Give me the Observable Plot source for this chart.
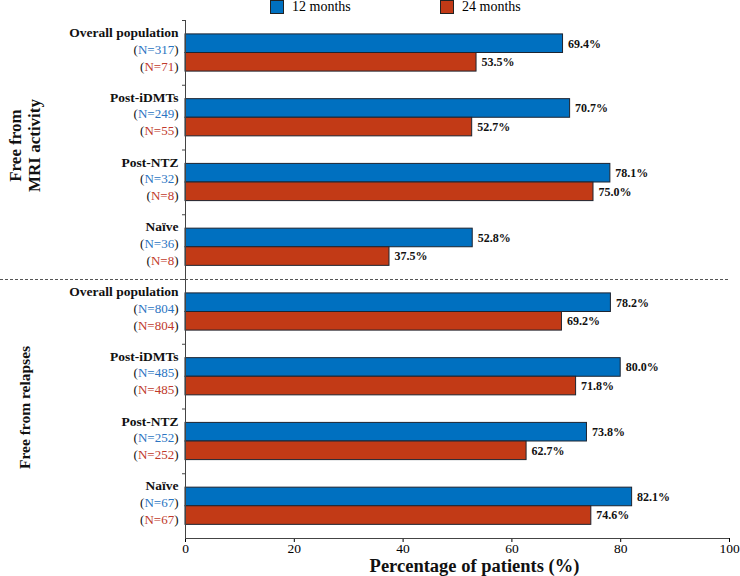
<!DOCTYPE html>
<html><head><meta charset="utf-8">
<script src="https://cdn.jsdelivr.net/npm/d3@7"></script>
<script src="https://cdn.jsdelivr.net/npm/@observablehq/plot@0.6"></script>
<style>
body{margin:0;background:#fff;font-family:"Liberation Serif","Times New Roman",serif;}
#legend{position:relative;height:16px;width:740px;overflow:visible;}
.sw{position:absolute;top:0;width:12px;height:12px;border:1px solid #222;}
.lt{position:absolute;top:0;font-size:14px;line-height:14px;color:#000;white-space:nowrap;}
</style></head><body>
<div id="legend"></div>
<div id="chart"></div>
<script>
// ---- data ----
const seriesNames = ["12 months", "24 months"];
const seriesColors = ["#0070C0", "#C23A16"];
const nColors = ["#2A74C2", "#C0392B"];
const sections = ["Free from\nMRI activity", "Free from relapses"];
const groups = ["Overall population", "Post-iDMTs", "Post-NTZ", "Naïve"];
const mri12 = [69.4, 70.7, 78.1, 52.8];
const mri24 = [53.5, 52.7, 75.0, 37.5];
const mriN12 = [317, 249, 32, 36];
const mriN24 = [71, 55, 8, 8];
const rel12 = [78.2, 80.0, 73.8, 82.1];
const rel24 = [69.2, 71.8, 62.7, 74.6];
const relN12 = [804, 485, 252, 67];
const relN24 = [804, 485, 252, 67];
const xTicks = [0, 20, 40, 60, 80, 100];
const xLabel = "Percentage of patients (%)";

// ---- table ----
const rows = [];
groups.forEach((g, i) => rows.push({id: "mri|" + g, group: g, v12: mri12[i], v24: mri24[i], n12: mriN12[i], n24: mriN24[i]}));
groups.forEach((g, i) => rows.push({id: "rel|" + g, group: g, v12: rel12[i], v24: rel24[i], n12: relN12[i], n24: relN24[i]}));
const ids = rows.map(d => d.id);

// ---- legend ----
const legend = document.getElementById("legend");
const legX = [270, 440];
seriesNames.forEach((s, i) => {
  const sw = document.createElement("div");
  sw.className = "sw"; sw.style.left = legX[i] + "px"; sw.style.background = seriesColors[i];
  legend.appendChild(sw);
  const t = document.createElement("div");
  t.className = "lt"; t.style.left = (legX[i] + 22) + "px"; t.textContent = s;
  legend.appendChild(t);
});

// ---- layout ----
const W = 740, H = 560, mL = 185, mR = 11, mT = 4, mB = 38;
const step = (H - mT - mB) / ids.length;
const barTop = 13.9, barH = 18.6;
const pxPerUnit = (W - mL - mR) / 100;
const axisColor = "#444";
const serif = '"Liberation Serif", "Times New Roman", serif';

const plot = Plot.plot({
  width: W, height: H,
  marginLeft: mL, marginRight: mR, marginTop: mT, marginBottom: mB,
  style: {fontFamily: serif, fontSize: "13.5px", color: "#000", background: "#fff"},
  x: {domain: [0, 100], ticks: xTicks, tickSize: 4, tickPadding: 1, label: null},
  y: {domain: ids, padding: 0, round: false, axis: null},
  marks: [
    Plot.barX(rows, {y: "id", x: "v12", fill: seriesColors[0], stroke: "#1d2430", strokeWidth: 1,
      insetTop: barTop, insetBottom: step - barTop - barH}),
    Plot.barX(rows, {y: "id", x: "v24", fill: seriesColors[1], stroke: "#1d2430", strokeWidth: 1,
      insetTop: barTop + barH, insetBottom: step - barTop - 2 * barH}),
    // axes lines
    Plot.ruleX([0], {stroke: axisColor}),
    Plot.ruleY([ids[ids.length - 1]], {dy: step / 2, stroke: axisColor}),
    Plot.ruleY(ids, {x1: -3 / pxPerUnit, x2: 0, dy: -step / 2, stroke: axisColor}),
    // separator
    Plot.ruleY([ids[groups.length]], {x1: -mL / pxPerUnit, x2: 100, dy: -step / 2, stroke: "#555", strokeDasharray: "3,2"}),
    // value labels
    Plot.text(rows, {y: "id", x: "v12", text: d => d.v12.toFixed(1) + "%", dx: 5, dy: -9.2,
      textAnchor: "start", lineAnchor: "middle", fontWeight: "bold", fontSize: 12, fill: "#111"}),
    Plot.text(rows, {y: "id", x: "v24", text: d => d.v24.toFixed(1) + "%", dx: 5, dy: 9.4,
      textAnchor: "start", lineAnchor: "middle", fontWeight: "bold", fontSize: 12, fill: "#111"}),
    // category labels
    Plot.text(rows, {y: "id", text: "group", frameAnchor: "left", dx: -7, dy: -20,
      textAnchor: "end", lineAnchor: "middle", fontWeight: "bold", fontSize: 13.5, fill: "#111"}),
    Plot.text(rows, {y: "id", text: d => `(N=${d.n12})`, frameAnchor: "left", dx: -7, dy: -3.5,
      textAnchor: "end", lineAnchor: "middle", fontSize: 13, fill: "#111", ariaDescription: "n12"}),
    Plot.text(rows, {y: "id", text: d => `(N=${d.n24})`, frameAnchor: "left", dx: -7, dy: 13.5,
      textAnchor: "end", lineAnchor: "middle", fontSize: 13, fill: "#111", ariaDescription: "n24"}),
    // section titles
    Plot.text([sections[0]], {y: () => ids[2], text: d => d, frameAnchor: "left", dx: 24 - mL, dy: -step / 2 - 4.5,
      rotate: -90, textAnchor: "middle", lineAnchor: "middle", lineHeight: 1.08, fontWeight: "bold", fontSize: 17, fill: "#111"}),
    Plot.text([sections[1]], {y: () => ids[6], text: d => d, frameAnchor: "left", dx: 25 - mL, dy: -step / 2 - 1.5,
      rotate: -90, textAnchor: "middle", lineAnchor: "middle", fontWeight: "bold", fontSize: 15.5, fill: "#111"}),
    // x label
    Plot.text([xLabel], {text: d => d, frameAnchor: "bottom", dx: 17, dy: 27.5, textAnchor: "middle", lineAnchor: "middle",
      fontWeight: "bold", fontSize: 18.5, fill: "#111"})
  ]
});

// colour the N= part of the sample-size labels
const svgNS = "http://www.w3.org/2000/svg";
[["n12", nColors[0]], ["n24", nColors[1]]].forEach(([key, col]) => {
  plot.querySelectorAll(`g[aria-description="${key}"] text`).forEach(t => {
    const s = t.textContent;
    t.textContent = "";
    [[s.slice(0, 1), null], [s.slice(1, -1), col], [s.slice(-1), null]].forEach(([txt, f]) => {
      const ts = document.createElementNS(svgNS, "tspan");
      ts.textContent = txt;
      if (f) ts.setAttribute("fill", f);
      t.appendChild(ts);
    });
  });
});
document.getElementById("chart").appendChild(plot);
</script></body></html>
